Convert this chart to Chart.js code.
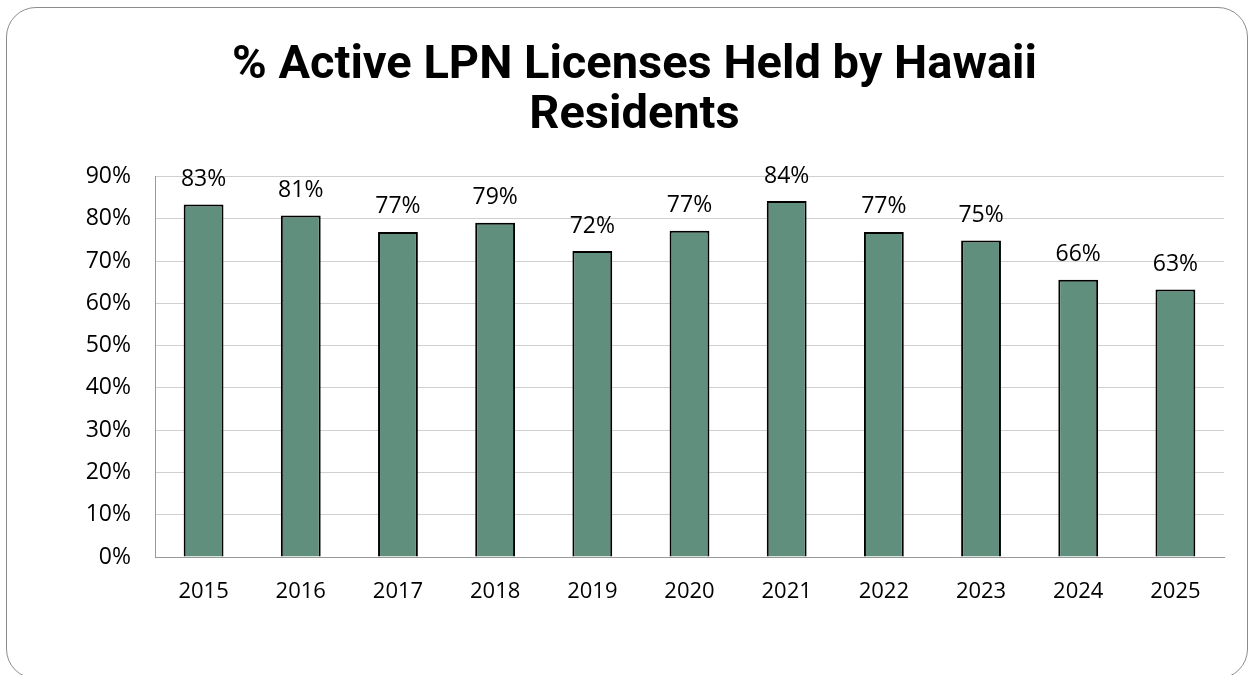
<!DOCTYPE html>
<html>
<head>
<meta charset="utf-8">
<script src="https://cdn.jsdelivr.net/npm/chart.js@4.4.1/dist/chart.umd.min.js"></script>
<style>
body{margin:0;background:#fff;}
#frame{position:absolute;left:6px;top:7px;width:1240px;height:670px;border:1.5px solid #8c8c8c;border-radius:30px;}
#wrap{position:absolute;left:0;top:0;width:1254px;height:675px;}
</style>
</head>
<body>
<div id="frame"></div>
<div id="wrap"><canvas id="chart" width="1254" height="675"></canvas></div>
<script>
let years = ["2015","2016","2017","2018","2019","2020","2021","2022","2023","2024","2025"];
let shares = [83.4, 80.8, 76.9, 79.1, 72.4, 77.2, 84.2, 76.9, 74.9, 65.6, 63.3];
let yTicks = [0,10,20,30,40,50,60,70,80,90];

// labels over the bars
let barLabels = {
id:'barLabels',
afterDatasetsDraw(chart){
let ctx = chart.ctx;
let meta = chart.getDatasetMeta(0);
ctx.save();
ctx.font = '23px "Open Sans"';
ctx.fillStyle = '#000';
ctx.textAlign = 'center';
ctx.textBaseline = 'middle';
meta.data.forEach(function(bar,i){
ctx.fillText(Math.round(shares[i]) + "%", bar.x, bar.y - 25);
});
ctx.restore();
}
};

new Chart(document.getElementById('chart').getContext('2d'),{
type:'bar',
data:{
labels:years,
datasets:[{
data:shares,
backgroundColor:'#608f7e',
borderColor:'#000',
borderWidth:2,
categoryPercentage:1,
barPercentage:0.41
}]
},
options:{
responsive:false,
animation:false,
devicePixelRatio:1,
layout:{padding:{left:45,right:30,top:30,bottom:68}},
plugins:{
legend:{display:false},
tooltip:{enabled:false},
title:{
display:true,
text:["% Active LPN Licenses Held by Hawaii","Residents"],
color:'#000',
font:{family:'Roboto',size:47,weight:'bold',lineHeight:1.07},
padding:{top:11,bottom:35}
}
},
scales:{
x:{
grid:{display:false,drawTicks:false},
border:{color:'#999'},
ticks:{color:'#000',font:{family:'Open Sans',size:22},padding:22},
afterFit(s){ s.height = 50; }
},
y:{
min:0,max:90,
afterBuildTicks(s){ s.ticks = yTicks.map(v => ({value:v})); },
grid:{color:'#d0d0d0',drawTicks:false},
border:{color:'#999'},
ticks:{color:'#000',font:{family:'Open Sans',size:23},padding:24,callback:v => v + "%"},
afterFit(s){ s.width = 110; }
}
}
},
plugins:[barLabels]
});
</script>
</body>
</html>
